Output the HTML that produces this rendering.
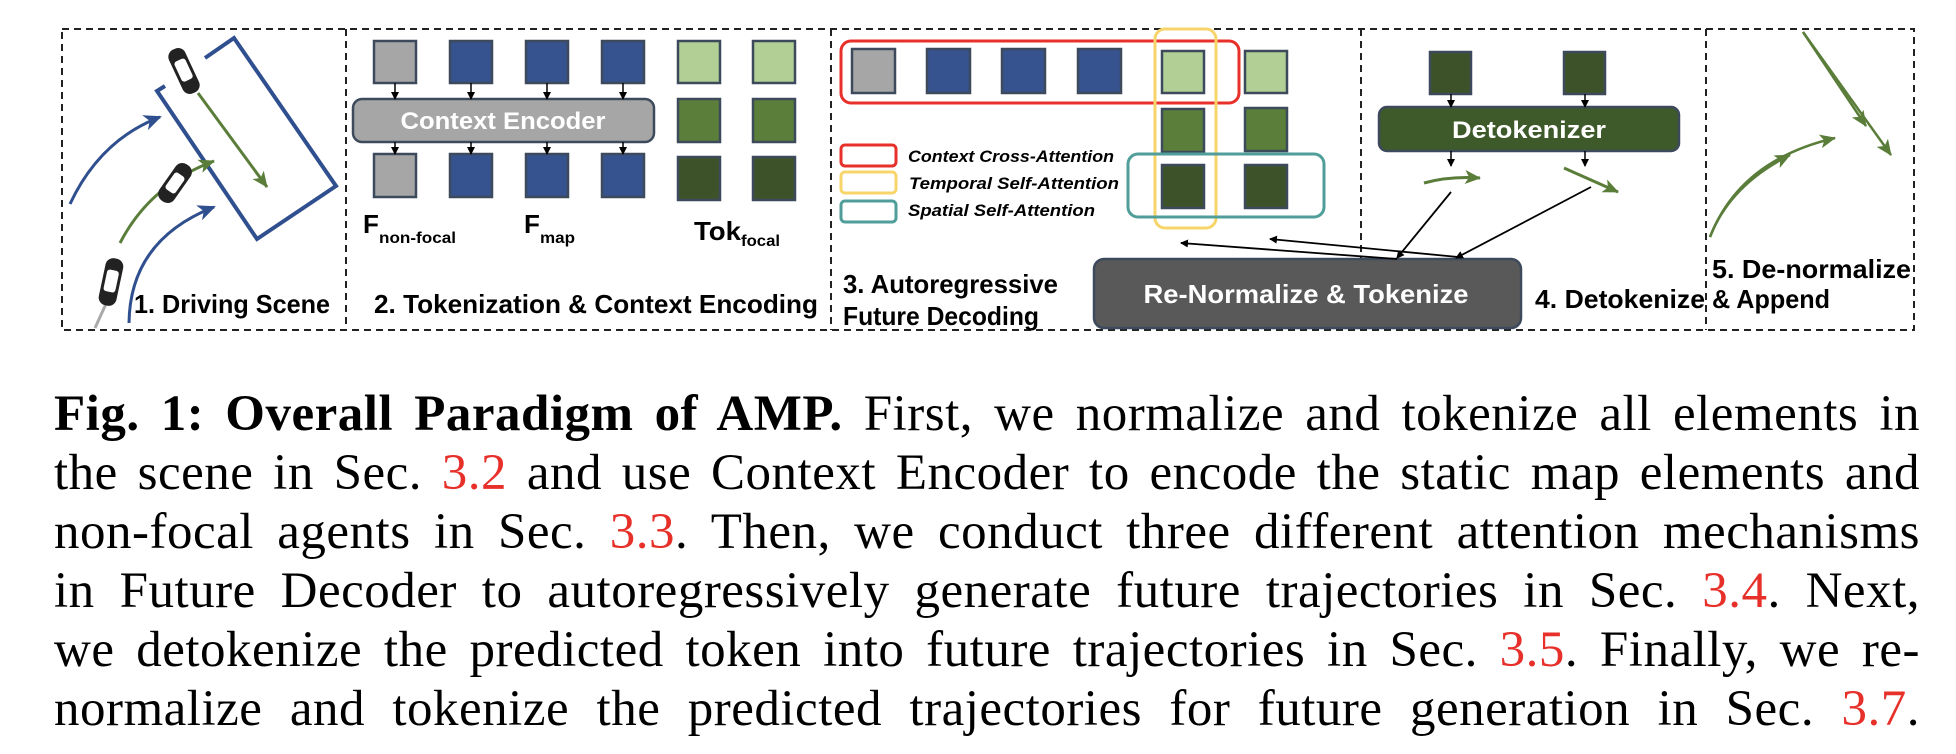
<!DOCTYPE html>
<html><head><meta charset="utf-8"><style>
html,body{margin:0;padding:0;background:#fff;width:1956px;height:754px;overflow:hidden}
svg{position:absolute;left:0;top:0}
.cap{position:absolute;left:54px;width:1866px;font-family:"Liberation Serif",serif;font-size:51px;color:#000;line-height:59px;letter-spacing:0.5px}
.cap div{text-align:justify;text-align-last:justify;white-space:nowrap;height:59px}
.r{color:#e8302a}
</style></head><body>
<svg width="1956" height="360" viewBox="0 0 1956 360" xmlns="http://www.w3.org/2000/svg">
<defs>
<marker id="ah" markerWidth="8" markerHeight="8" refX="7" refY="4" orient="auto" markerUnits="userSpaceOnUse"><path d="M0,0 L8,4 L0,8 z" fill="#000"/></marker>
<marker id="ab" markerWidth="20" markerHeight="16" refX="16" refY="8" orient="auto" markerUnits="userSpaceOnUse"><path d="M0,0 L18,8 L0,16 L5,8 z" fill="#2f4f8f"/></marker>
<marker id="ag" markerWidth="18" markerHeight="14" refX="15" refY="7" orient="auto" markerUnits="userSpaceOnUse"><path d="M0,0 L16,7 L0,14 L4,7 z" fill="#5a7d3a"/></marker>
</defs>
<g fill="none" stroke="#222" stroke-width="2" stroke-dasharray="7,5">
<rect x="62" y="29" width="1852" height="301"/>
<line x1="346" y1="29" x2="346" y2="330"/>
<line x1="831" y1="29" x2="831" y2="330"/>
<line x1="1361" y1="29" x2="1361" y2="330"/>
<line x1="1706" y1="29" x2="1706" y2="330"/>
</g>
<polyline points="205,58 234,38 336,186 257,239 157,91 165,86" fill="none" stroke="#2f4f8f" stroke-width="4"/>
<path d="M70,204 Q100,140 160,117" fill="none" stroke="#2f4f8f" stroke-width="3" marker-end="url(#ab)"/>
<path d="M129,323 Q130,240 214,207" fill="none" stroke="#2f4f8f" stroke-width="3" marker-end="url(#ab)"/>
<path d="M120,243 Q150,185 214,161" fill="none" stroke="#5a7d3a" stroke-width="3" marker-end="url(#ag)"/>
<line x1="198" y1="93" x2="267" y2="187" stroke="#5a7d3a" stroke-width="3" marker-end="url(#ag)"/>
<line x1="110" y1="295" x2="95" y2="328" stroke="#aaa" stroke-width="3"/>
<g transform="translate(184,71) rotate(-25)"><rect x="-9" y="-24" width="18" height="48" rx="8" fill="#222"/><rect x="-6" y="-12" width="12" height="22" rx="3" fill="#fff"/></g>
<g transform="translate(175,183) rotate(35)"><rect x="-9" y="-22" width="18" height="44" rx="8" fill="#222"/><rect x="-6" y="-10" width="12" height="20" rx="3" fill="#fff"/></g>
<g transform="translate(111,282) rotate(12)"><rect x="-9" y="-24" width="18" height="48" rx="8" fill="#222"/><rect x="-6" y="-12" width="12" height="22" rx="3" fill="#fff"/></g>
<g font-family="Liberation Sans, sans-serif" font-weight="bold" fill="#000">
<text x="134" y="313" font-size="26" textLength="196" lengthAdjust="spacingAndGlyphs">1. Driving Scene</text>
<text x="374" y="313" font-size="26" textLength="444" lengthAdjust="spacingAndGlyphs">2. Tokenization &amp; Context Encoding</text>
<text x="843" y="293" font-size="26" textLength="215" lengthAdjust="spacingAndGlyphs">3. Autoregressive</text>
<text x="843" y="325" font-size="26" textLength="196" lengthAdjust="spacingAndGlyphs">Future Decoding</text>
<text x="1535" y="308" font-size="26" textLength="170" lengthAdjust="spacingAndGlyphs">4. Detokenize</text>
<text x="1712" y="308" font-size="26" textLength="118" lengthAdjust="spacingAndGlyphs">&amp; Append</text>
<text x="1712" y="278" font-size="26" textLength="199" lengthAdjust="spacingAndGlyphs">5. De-normalize</text>
<text x="363" y="233" font-size="26">F</text><text x="379" y="243" font-size="16" textLength="77" lengthAdjust="spacingAndGlyphs">non-focal</text>
<text x="524" y="233" font-size="26">F</text><text x="540" y="243" font-size="16" textLength="35" lengthAdjust="spacingAndGlyphs">map</text>
<text x="694" y="240" font-size="26" textLength="47" lengthAdjust="spacingAndGlyphs">Tok</text><text x="741" y="246" font-size="16" textLength="39" lengthAdjust="spacingAndGlyphs">focal</text>
</g>
<g stroke="#3d4a5c" stroke-width="2.5">
<rect x="374" y="41" width="42" height="42" fill="#a6a6a6"/>
<rect x="450" y="41" width="42" height="42" fill="#36528f"/>
<rect x="526" y="41" width="42" height="42" fill="#36528f"/>
<rect x="602" y="41" width="42" height="42" fill="#36528f"/>
<rect x="678" y="41" width="42" height="42" fill="#b2d096"/>
<rect x="753" y="41" width="42" height="42" fill="#b2d096"/>
<rect x="678" y="99" width="42" height="43" fill="#5b7f3a"/>
<rect x="753" y="99" width="42" height="43" fill="#5b7f3a"/>
<rect x="374" y="154" width="42" height="43" fill="#a6a6a6"/>
<rect x="450" y="154" width="42" height="43" fill="#36528f"/>
<rect x="526" y="154" width="42" height="43" fill="#36528f"/>
<rect x="602" y="154" width="42" height="43" fill="#36528f"/>
<rect x="678" y="157" width="42" height="43" fill="#3e5229"/>
<rect x="753" y="157" width="42" height="43" fill="#3e5229"/>
<rect x="353" y="99" width="301" height="43" rx="9" fill="#a6a6a6"/>
</g>
<text x="503" y="129" font-family="Liberation Sans, sans-serif" font-weight="bold" font-size="24" fill="#fff" text-anchor="middle" textLength="205" lengthAdjust="spacingAndGlyphs">Context Encoder</text>
<g stroke="#000" stroke-width="1.5" marker-end="url(#ah)">
<line x1="395" y1="83" x2="395" y2="99"/><line x1="471" y1="83" x2="471" y2="99"/><line x1="547" y1="83" x2="547" y2="99"/><line x1="623" y1="83" x2="623" y2="99"/>
<line x1="395" y1="142" x2="395" y2="154"/><line x1="471" y1="142" x2="471" y2="154"/><line x1="547" y1="142" x2="547" y2="154"/><line x1="623" y1="142" x2="623" y2="154"/>
</g>
<rect x="841" y="41" width="398" height="62" rx="10" fill="none" stroke="#e8302a" stroke-width="3"/>
<g stroke="#3d4a5c" stroke-width="2.5">
<rect x="852" y="49" width="43" height="44" fill="#a6a6a6"/>
<rect x="927" y="49" width="43" height="44" fill="#36528f"/>
<rect x="1002" y="49" width="43" height="44" fill="#36528f"/>
<rect x="1078" y="49" width="43" height="44" fill="#36528f"/>
<rect x="1162" y="51" width="42" height="42" fill="#b2d096"/>
<rect x="1245" y="51" width="42" height="42" fill="#b2d096"/>
<rect x="1162" y="109" width="42" height="43" fill="#5b7f3a"/>
<rect x="1245" y="108" width="42" height="43" fill="#5b7f3a"/>
<rect x="1162" y="165" width="42" height="43" fill="#3e5229"/>
<rect x="1245" y="165" width="42" height="43" fill="#3e5229"/>
</g>
<rect x="1155" y="29" width="61" height="199" rx="10" fill="none" stroke="#f7d56a" stroke-width="3"/>
<rect x="1128" y="154" width="196" height="63" rx="10" fill="none" stroke="#4f9e9a" stroke-width="3"/>
<rect x="841" y="145" width="55" height="21" rx="4" fill="none" stroke="#e8302a" stroke-width="3"/>
<rect x="841" y="172" width="55" height="21" rx="4" fill="none" stroke="#f7d56a" stroke-width="3"/>
<rect x="841" y="201" width="55" height="21" rx="4" fill="none" stroke="#4f9e9a" stroke-width="3"/>
<g font-family="Liberation Sans, sans-serif" font-weight="bold" font-style="italic" font-size="17" fill="#000">
<text x="908" y="162" textLength="206" lengthAdjust="spacingAndGlyphs">Context Cross-Attention</text>
<text x="909" y="189" textLength="210" lengthAdjust="spacingAndGlyphs">Temporal Self-Attention</text>
<text x="908" y="216" textLength="187" lengthAdjust="spacingAndGlyphs">Spatial Self-Attention</text>
</g>
<rect x="1094" y="259" width="427" height="69" rx="10" fill="#595959" stroke="#3d4a5c" stroke-width="2.5"/>
<text x="1306" y="303" font-family="Liberation Sans, sans-serif" font-weight="bold" font-size="26" fill="#fff" text-anchor="middle" textLength="325" lengthAdjust="spacingAndGlyphs">Re-Normalize &amp;  Tokenize</text>
<g stroke="#000" stroke-width="1.8" marker-end="url(#ah)">
<line x1="1397" y1="259" x2="1181" y2="243"/>
<line x1="1458" y1="257" x2="1270" y2="239"/>
<line x1="1451" y1="192" x2="1397" y2="258"/>
<line x1="1591" y1="187" x2="1456" y2="258"/>
</g>
<g stroke="#3d4a5c" stroke-width="2.5">
<rect x="1430" y="52" width="41" height="42" fill="#3e5229"/>
<rect x="1564" y="52" width="41" height="42" fill="#3e5229"/>
<rect x="1379" y="107" width="300" height="44" rx="8" fill="#3e5a2a"/>
</g>
<text x="1529" y="138" font-family="Liberation Sans, sans-serif" font-weight="bold" font-size="24" fill="#fff" text-anchor="middle" textLength="154" lengthAdjust="spacingAndGlyphs">Detokenizer</text>
<g stroke="#000" stroke-width="1.5" marker-end="url(#ah)">
<line x1="1451" y1="94" x2="1451" y2="107"/><line x1="1585" y1="94" x2="1585" y2="107"/>
<line x1="1451" y1="151" x2="1451" y2="166"/><line x1="1585" y1="151" x2="1585" y2="166"/>
</g>
<path d="M1424,183 Q1450,176 1480,178" fill="none" stroke="#5a7d3a" stroke-width="3" marker-end="url(#ag)"/>
<line x1="1564" y1="168" x2="1618" y2="192" stroke="#5a7d3a" stroke-width="3" marker-end="url(#ag)"/>
<line x1="1803" y1="32" x2="1891" y2="155" stroke="#5a7d3a" stroke-width="2.5" marker-end="url(#ag)"/>
<line x1="1803" y1="32" x2="1866" y2="126" stroke="#5a7d3a" stroke-width="2.5" marker-end="url(#ag)"/>
<path d="M1710,237 Q1740,160 1835,138" fill="none" stroke="#5a7d3a" stroke-width="2.5" marker-end="url(#ag)"/>
<path d="M1710,237 Q1730,185 1790,155" fill="none" stroke="#5a7d3a" stroke-width="2.5" marker-end="url(#ag)"/>
</svg>
<div class="cap" style="top:385px">
<div><b>Fig. 1: Overall Paradigm of AMP.</b> First, we normalize and tokenize all elements in</div>
<div>the scene in Sec. <span class="r">3.2</span> and use Context Encoder to encode the static map elements and</div>
<div>non-focal agents in Sec. <span class="r">3.3</span>. Then, we conduct three different attention mechanisms</div>
<div>in Future Decoder to autoregressively generate future trajectories in Sec. <span class="r">3.4</span>. Next,</div>
<div>we detokenize the predicted token into future trajectories in Sec. <span class="r">3.5</span>. Finally, we re-</div>
<div>normalize and tokenize the predicted trajectories for future generation in Sec. <span class="r">3.7</span>.</div>
</div>
</body></html>
